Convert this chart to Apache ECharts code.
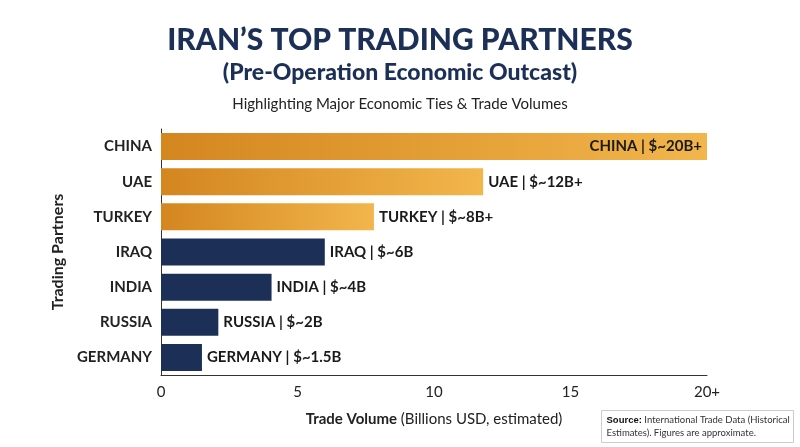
<!DOCTYPE html>
<html><head><meta charset="utf-8">
<script src="https://cdn.jsdelivr.net/npm/echarts@6/dist/echarts.min.js"></script>
<style>html,body{margin:0;padding:0;background:#fff}#c{width:800px;height:447px}</style>
</head><body><div id="c"></div>
<script>
const categories = ['CHINA','UAE','TURKEY','IRAQ','INDIA','RUSSIA','GERMANY'];
const values = [20, 11.8, 7.8, 6, 4.05, 2.1, 1.5];
const labels = ['CHINA | $~20B+','UAE | $~12B+','TURKEY | $~8B+','IRAQ | $~6B','INDIA | $~4B','RUSSIA | $~2B','GERMANY | $~1.5B'];
const highlight = [true,true,true,false,false,false,false];
const xTicks = {0:'0',5:'5',10:'10',15:'15',20:'20+'};

const orange = new echarts.graphic.LinearGradient(0,0,1,0,[{offset:0,color:'#d4861f'},{offset:1,color:'#f2b64c'}]);
const navy = '#1c3057';
const chart = echarts.init(document.getElementById('c'));
const rev = a => a.slice().reverse();
chart.setOption({
  animation:false,
  textStyle:{fontFamily:'Lato'},
  title:[
    {text:'IRAN’S TOP TRADING PARTNERS',left:'center',top:20,textStyle:{fontSize:30,fontWeight:900,color:'#1c3057',fontFamily:'Lato'}},
    {text:'(Pre-Operation Economic Outcast)',left:'center',top:56,textStyle:{fontSize:23,fontWeight:900,color:'#1c3057',fontFamily:'Lato'}},
    {text:'Highlighting Major Economic Ties & Trade Volumes',left:'center',top:92,textStyle:{fontSize:15,fontWeight:'normal',color:'#222',fontFamily:'Lato'}}
  ],
  grid:{left:161,right:93,top:129,bottom:72},
  xAxis:{type:'value',min:0,max:20,interval:5,
    axisLine:{show:true,lineStyle:{color:'#333'}},axisTick:{show:false},splitLine:{show:false},
    axisLabel:{formatter:v=>xTicks[v],fontSize:15,color:'#222',margin:10},
    name:'{b|Trade Volume} (Billions USD, estimated)',nameLocation:'middle',nameGap:37,
    nameTextStyle:{fontSize:15,color:'#222',rich:{b:{fontWeight:'bold',fontSize:15,color:'#222'}}}},
  yAxis:{type:'category',data:rev(categories),
    axisLine:{show:true,lineStyle:{color:'#333'}},axisTick:{show:false},
    axisLabel:{fontSize:15,fontWeight:'bold',color:'#222',margin:9},
    name:'Trading Partners',nameLocation:'middle',nameGap:94,nameRotate:90,
    nameTextStyle:{fontSize:16,fontWeight:'bold',color:'#222'}},
  series:[{type:'bar',barWidth:27,
    data:rev(values).map((v,i)=>{const j=values.length-1-i;return {value:v,
      itemStyle:{color:highlight[j]?orange:navy},
      label:{show:true,formatter:labels[j],position:j===0?'insideRight':'right',distance:5,
        fontSize:15,fontWeight:'bold',color:'#1a1a1a'}};})
  }],
  graphic:[{type:'group',left:601,top:410,children:[
    {type:'rect',shape:{x:0,y:0,width:192,height:32},style:{fill:'#fff',stroke:'#ccc',lineWidth:1}},
    {type:'text',x:5,y:3,style:{text:'{b|Source:} International Trade Data (Historical\nEstimates). Figures are approximate.',fontSize:9.5,lineHeight:13,fill:'#333',fontFamily:'Lato',rich:{b:{fontWeight:'bold',fontSize:9.5,fill:'#111'}}}}
  ]}]
});
</script></body></html>
